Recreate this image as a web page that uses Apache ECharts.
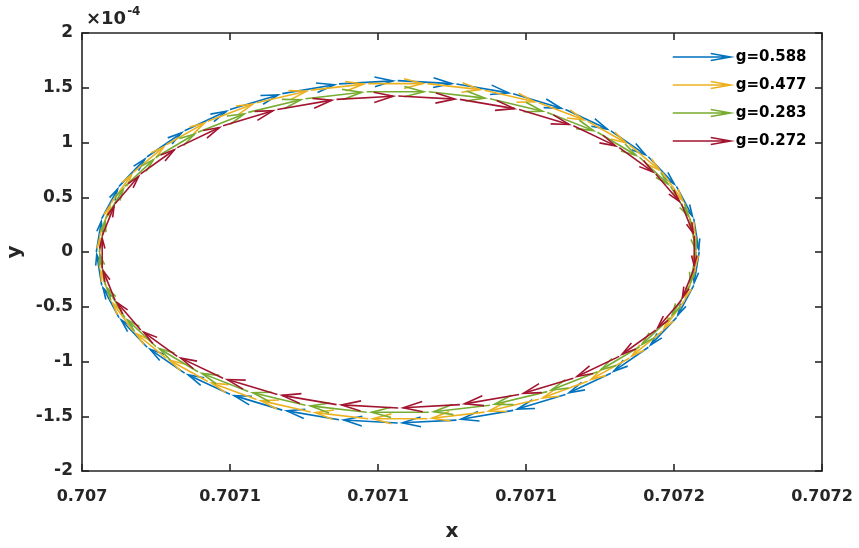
<!DOCTYPE html>
<html>
<head>
<meta charset="utf-8">
<script src="https://cdn.jsdelivr.net/npm/echarts@6/dist/echarts.min.js"></script>
<style>html,body{margin:0;padding:0;background:#fff;}#c{width:859px;height:548px;}</style>
</head>
<body>
<div id="c"></div>
<script>
// ---- Data ----
const seriesNames = ['g=0.588', 'g=0.477', 'g=0.283', 'g=0.272'];
const xTickLabels = ['0.707', '0.7071', '0.7071', '0.7071', '0.7072', '0.7072'];
const yTickLabels = ['-2', '-1.5', '-1', '-0.5', '0', '0.5', '1', '1.5', '2'];
const xMin = 0.70704, xMax = 0.70719, xStep = 0.00003;
const yMin = -2, yMax = 2, yStep = 0.5;   // y in units of 1e-4

// arrow base points of each quiver series (x, y*1e4)
const blueX = [0.7070429,0.7070440,0.7070475,0.7070532,0.7070608,0.7070700,0.7070806,0.7070921,0.7071040,0.7071159,0.7071274,0.7071380,0.7071472,0.7071548,0.7071605,0.7071640,0.7071651,0.7071640,0.7071605,0.7071548,0.7071472,0.7071380,0.7071274,0.7071159,0.7071040,0.7070921,0.7070806,0.7070700,0.7070608,0.7070532,0.7070475,0.7070440];
const blueY = [0,0.305,0.599,0.870,1.107,1.301,1.446,1.535,1.565,1.535,1.446,1.301,1.107,0.870,0.599,0.305,0,-0.305,-0.599,-0.870,-1.107,-1.301,-1.446,-1.535,-1.562,-1.532,-1.444,-1.300,-1.107,-0.870,-0.599,-0.305];

const yellowX = [0.7070436,0.7070459,0.7070504,0.7070571,0.7070655,0.7070754,0.7070864,0.7070980,0.7071100,0.7071216,0.7071326,0.7071425,0.7071509,0.7071576,0.7071621,0.7071644,0.7071644,0.7071621,0.7071576,0.7071509,0.7071425,0.7071326,0.7071216,0.7071100,0.7070980,0.7070864,0.7070754,0.7070655,0.7070571,0.7070504,0.7070459,0.7070436];
const yellowY = [0.151,0.448,0.728,0.980,1.194,1.363,1.478,1.538,1.538,1.478,1.363,1.194,0.980,0.728,0.448,0.151,-0.151,-0.446,-0.722,-0.970,-1.180,-1.345,-1.462,-1.523,-1.523,-1.462,-1.348,-1.183,-0.972,-0.724,-0.446,-0.151];

const greenX = [0.7070435,0.7070448,0.7070487,0.7070550,0.7070635,0.7070737,0.7070853,0.7070977,0.7071103,0.7071227,0.7071343,0.7071445,0.7071530,0.7071593,0.7071632,0.7071645,0.7071632,0.7071593,0.7071530,0.7071445,0.7071343,0.7071227,0.7071103,0.7070977,0.7070853,0.7070737,0.7070635,0.7070550,0.7070487,0.7070448];
const greenY = [0,0.306,0.599,0.865,1.094,1.275,1.400,1.464,1.464,1.400,1.275,1.094,0.865,0.599,0.306,0,-0.306,-0.599,-0.865,-1.094,-1.275,-1.400,-1.464,-1.464,-1.400,-1.275,-1.094,-0.865,-0.599,-0.306];

const redX = [0.7070441,0.7070467,0.7070519,0.7070593,0.7070686,0.7070796,0.7070916,0.7071041,0.7071166,0.7071286,0.7071396,0.7071489,0.7071563,0.7071615,0.7071641,0.7071641,0.7071615,0.7071563,0.7071489,0.7071396,0.7071286,0.7071166,0.7071041,0.7070916,0.7070796,0.7070686,0.7070593,0.7070519,0.7070467,0.7070441];
const redY = [0.149,0.440,0.713,0.953,1.153,1.302,1.394,1.425,1.394,1.302,1.153,0.953,0.713,0.440,0.149,-0.149,-0.440,-0.713,-0.953,-1.153,-1.302,-1.394,-1.425,-1.394,-1.302,-1.153,-0.953,-0.713,-0.440,-0.149];

const colors = ['#0072BD', '#EDB120', '#77AC30', '#A2142F'];
const FONT = 'DejaVu Sans';

// quiver table: each arrow points to the next sample (scaled like MATLAB autoscale)
function quiverTable(xs, ys) {
  return xs.map((x, i) => {
    const j = (i + 1) % xs.length;
    return [x, ys[i], 0.92 * (xs[j] - x), 0.92 * (ys[j] - ys[i])];
  });
}
const tables = [quiverTable(blueX, blueY), quiverTable(yellowX, yellowY),
                quiverTable(greenX, greenY), quiverTable(redX, redY)];

function renderArrow(params, api) {
  const x = api.value(0), y = api.value(1), u = api.value(2), v = api.value(3);
  const p0 = api.coord([x, y]);
  const p1 = api.coord([x + u, y + v]);
  const dx = p1[0] - p0[0], dy = p1[1] - p0[1];
  const L = Math.sqrt(dx * dx + dy * dy) || 1;
  const ux = dx / L, uy = dy / L;
  const h = 0.34 * L, w = 0.09 * L;
  const bx = p1[0] - ux * h, by = p1[1] - uy * h;
  const b1 = [bx - uy * w, by + ux * w];
  const b2 = [bx + uy * w, by - ux * w];
  const c = colors[params.seriesIndex];
  return {
    type: 'group',
    children: [
      { type: 'line', shape: { x1: p0[0], y1: p0[1], x2: p1[0], y2: p1[1] },
        style: { stroke: c, lineWidth: 1.6 } },
      { type: 'polyline', shape: { points: [b1, p1, b2] },
        style: { stroke: c, fill: null, lineWidth: 1.6 } }
    ]
  };
}

const axisLineStyle = { color: '#262626', width: 1.6 };
const xFmt = v => { const i = Math.round((v - xMin) / xStep); return xTickLabels[i] !== undefined ? xTickLabels[i] : ''; };
const yFmt = v => { const i = Math.round((v - yMin) / yStep); return yTickLabels[i] !== undefined ? yTickLabels[i] : ''; };

const chart = echarts.init(document.getElementById('c'), null, { renderer: 'canvas' });
chart.setOption({
  backgroundColor: '#ffffff',
  animation: false,
  grid: { left: 82, right: 37, top: 33, bottom: 77, containLabel: false, outerBoundsMode: 'none' },
  xAxis: [
    { type: 'value', min: xMin, max: xMax, interval: xStep, position: 'bottom',
      name: 'x', nameLocation: 'middle', nameGap: 51,
      nameTextStyle: { fontFamily: FONT, fontWeight: 'bold', fontSize: 20, color: '#262626' },
      axisLine: { show: true, onZero: false, lineStyle: axisLineStyle },
      axisTick: { show: true, inside: true, length: 7, lineStyle: axisLineStyle },
      axisLabel: { formatter: xFmt, margin: 18, fontFamily: FONT, fontWeight: 'bold', fontSize: 16, color: '#262626' },
      splitLine: { show: false } },
    { type: 'value', min: xMin, max: xMax, interval: xStep, position: 'top',
      axisLine: { show: true, onZero: false, lineStyle: axisLineStyle },
      axisTick: { show: true, inside: true, length: 7, lineStyle: axisLineStyle },
      axisLabel: { show: false }, splitLine: { show: false } }
  ],
  yAxis: [
    { type: 'value', min: yMin, max: yMax, interval: yStep, position: 'left',
      name: 'y', nameLocation: 'middle', nameGap: 52,
      nameTextStyle: { fontFamily: FONT, fontWeight: 'bold', fontSize: 20, color: '#262626' },
      axisLine: { show: true, onZero: false, lineStyle: axisLineStyle },
      axisTick: { show: true, inside: true, length: 7, lineStyle: axisLineStyle },
      axisLabel: { formatter: yFmt, margin: 9, fontFamily: FONT, fontWeight: 'bold', fontSize: 17, color: '#262626' },
      splitLine: { show: false } },
    { type: 'value', min: yMin, max: yMax, interval: yStep, position: 'right',
      axisLine: { show: true, onZero: false, lineStyle: axisLineStyle },
      axisTick: { show: true, inside: true, length: 7, lineStyle: axisLineStyle },
      axisLabel: { show: false }, splitLine: { show: false } }
  ],
  legend: {
    orient: 'vertical', left: 672, top: 49, padding: 0,
    itemWidth: 58, itemHeight: 8, itemGap: 12,
    textStyle: { fontFamily: FONT, fontWeight: 'bold', fontSize: 15, color: '#000', lineHeight: 16 },
    data: seriesNames.map((n, i) => ({
      name: n,
      icon: 'path://M0,4L58,4M38,0.5L58,4L38,7.5',
      itemStyle: { color: 'transparent', borderColor: colors[i], borderWidth: 1.5 }
    }))
  },
  graphic: [{
    type: 'text', left: 86, top: 6,
    style: {
      text: '{a|×10}{b|-4}',
      rich: {
        a: { fontFamily: FONT, fontWeight: 'bold', fontSize: 18, fill: '#262626', verticalAlign: 'bottom' },
        b: { fontFamily: FONT, fontWeight: 'bold', fontSize: 12, fill: '#262626', verticalAlign: 'top', padding: [0, 0, 10, 1] }
      }
    }
  }],
  series: seriesNames.map((n, i) => ({
    name: n, type: 'custom', xAxisIndex: 0, yAxisIndex: 0,
    renderItem: renderArrow,
    itemStyle: { color: colors[i] },
    dimensions: ['x', 'y', 'u', 'v'],
    encode: { x: 0, y: 1 },
    clip: true,
    data: tables[i]
  }))
});
</script>
</body>
</html>
